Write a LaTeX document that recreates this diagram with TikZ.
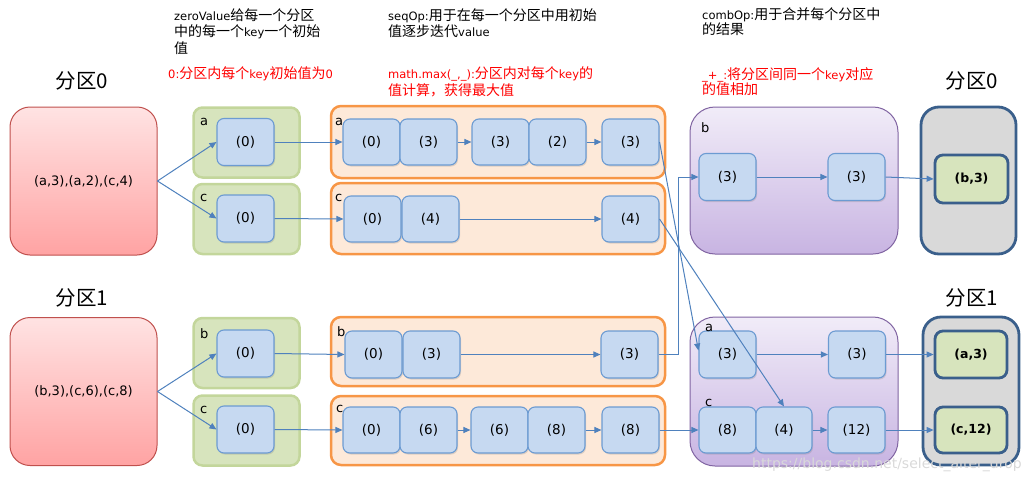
\documentclass[tikz,border=0pt]{standalone}
\usepackage{fontspec}
\setmainfont{Noto Sans CJK SC}
\newfontfamily\latfont{DejaVu Sans}
\newcommand\latn[1]{{\fontsize{11.5}{15}\selectfont\latfont #1}}
\usetikzlibrary{arrows.meta,shadows}
\definecolor{redtop}{HTML}{FFE3E3}
\definecolor{redbot}{HTML}{FFA3A3}
\definecolor{redborder}{HTML}{C0504D}
\definecolor{greenfill}{HTML}{D7E4BD}
\definecolor{greenborder}{HTML}{C3D69B}
\definecolor{bluefill}{HTML}{C6D9F1}
\definecolor{blueborder}{HTML}{6C9BD2}
\definecolor{orangefill}{HTML}{FDE9D9}
\definecolor{orangeborder}{HTML}{F79646}
\definecolor{purtop}{HTML}{F1ECF8}
\definecolor{purbot}{HTML}{C8B4E2}
\definecolor{purborder}{HTML}{8064A2}
\definecolor{grayfill}{HTML}{D9D9D9}
\definecolor{darkblue}{HTML}{3A5F8B}
\definecolor{arrowblue}{HTML}{4F81BD}
\begin{document}
\begin{tikzpicture}[x=1pt,y=-1pt,
  redbox/.style={draw=redborder, line width=1pt, rounded corners=20pt, top color=redtop, bottom color=redbot, minimum width=147pt, minimum height=148pt, inner sep=0pt, font=\fontsize{13}{15}\selectfont\latfont},
  greenbox/.style={draw=greenborder, line width=2.5pt, fill=greenfill, rounded corners=9pt, minimum width=106pt, minimum height=70pt, inner sep=0pt},
  bluebox/.style={draw=blueborder, line width=1.1pt, fill=bluefill, rounded corners=7pt, minimum width=57pt, minimum height=47pt, inner sep=0pt, drop shadow={shadow xshift=1pt,shadow yshift=-1.5pt,opacity=0.25}, font=\fontsize{13.5}{15}\selectfont\latfont},
  orangebox/.style={draw=orangeborder, line width=2.5pt, fill=orangefill, rounded corners=10pt, minimum width=334pt, minimum height=70pt, inner sep=0pt},
  purplebox/.style={draw=purborder, line width=1pt, rounded corners=25pt, top color=purtop, bottom color=purbot, minimum width=208pt, minimum height=148pt, inner sep=0pt},
  graybox/.style={draw=darkblue, line width=2.8pt, fill=grayfill, rounded corners=18pt, minimum width=95pt, minimum height=147pt, inner sep=0pt},
  resbox/.style={draw=darkblue, line width=2.8pt, fill=greenfill, rounded corners=8pt, minimum width=72pt, minimum height=47pt, inner sep=0pt, font=\fontsize{12.5}{15}\selectfont\latfont\bfseries},
  title/.style={font=\fontsize{20.5}{24}\selectfont, inner sep=0pt},
  lbl/.style={font=\fontsize{13}{15}\selectfont\latfont, anchor=base west, inner sep=0pt},
  note/.style={font=\fontsize{14}{16}\selectfont, anchor=base west, inner sep=0pt},
  rednote/.style={note, text=red},
  arr/.style={-{Triangle[length=7pt,width=6pt]}, draw=arrowblue, line width=1pt}
]
\useasboundingbox (0,0) rectangle (1028,482);

% annotations
\node[note] (n1) at (174,20) {\latn{zeroValue}给每一个分区};
\node[note] (n2) at (174,36.5) {中的每一个\latn{key}一个初始};
\node[note] (n3) at (174,53) {值};
\node[rednote] (n4) at (168,78) {\latn{0:}分区内每个\latn{key}初始值为\latn{0}};
\node[note] (n5) at (388,20) {\latn{seqOp:}用于在每一个分区中用初始};
\node[note] (n6) at (388,36) {值逐步迭代\latn{value}};
\node[rednote] (n7) at (388,78) {\latn{math.max(\_,\_):}分区内对每个\latn{key}的};
\node[rednote] (n8) at (388,95) {值计算，获得最大值};
\node[note] (n9) at (702,19) {\latn{combOp:}用于合并每个分区中};
\node[note] (n10) at (702,34.5) {的结果};
\node[rednote] (n11) at (702,79) {\latn{\_+\_:}将分区间同一个\latn{key}对应};
\node[rednote] (n12) at (702,94.5) {的值相加};

% titles
\node[title] (t0) at (82,81) {分区0};
\node[title] (t1) at (82,298) {分区1};
\node[title] (t2) at (972,81) {分区0};
\node[title] (t3) at (972,298) {分区1};

% red partitions
\node[redbox] (r0) at (83.5,181) {(a,3),(a,2),(c,4)};
\node[redbox] (r1) at (83.5,391.5) {(b,3),(c,6),(c,8)};

% green boxes
\node[greenbox] (ga) at (246.5,142.5) {};
\node[greenbox] (gc) at (246.5,219) {};
\node[greenbox] (gb1) at (246.5,353) {};
\node[greenbox] (gc1) at (246.5,430.5) {};

% orange boxes
\node[orangebox, minimum height=72pt] (oa) at (498,142) {};
\node[orangebox, minimum height=71pt] (oc) at (498,218.5) {};
\node[orangebox, minimum height=69pt] (ob) at (498,351.5) {};
\node[orangebox, minimum height=69pt] (oc1) at (498,430.5) {};

% purple boxes
\node[purplebox, minimum height=147pt] (pb) at (794,180.5) {};
\node[purplebox, minimum height=149pt] (pp) at (794,391.5) {};

% gray boxes
\node[graybox] (gr0) at (968.5,180.5) {};
\node[graybox, minimum width=96pt, minimum height=148pt] (gr1) at (971,391) {};

% blue in green
\node[bluebox] (za) at (245.5,142) {(0)};
\node[bluebox] (zc) at (245.5,218.5) {(0)};
\node[bluebox] (zb1) at (245.5,353.5) {(0)};
\node[bluebox] (zc1) at (245.5,429.5) {(0)};

% orange row a
\node[bluebox, minimum height=46pt] (a1) at (371.5,142) {(0)};
\node[bluebox, minimum height=46pt] (a2) at (428.5,142) {(3)};
\node[bluebox, minimum height=46pt] (a3) at (500.5,142) {(3)};
\node[bluebox, minimum height=46pt] (a4) at (557.5,142) {(2)};
\node[bluebox, minimum height=46pt] (a5) at (630.5,142) {(3)};
% orange row c
\node[bluebox, minimum height=46pt] (c1) at (372.5,219) {(0)};
\node[bluebox, minimum height=46pt] (c2) at (430.5,219) {(4)};
\node[bluebox, minimum height=46pt] (c3) at (630.5,219) {(4)};
% orange row b (P1)
\node[bluebox] (b1) at (373.5,354.5) {(0)};
\node[bluebox] (b2) at (431.5,354.5) {(3)};
\node[bluebox] (b3) at (629.5,354.5) {(3)};
% orange row c (P1)
\node[bluebox, minimum height=46pt] (d1) at (371.5,430) {(0)};
\node[bluebox, minimum height=46pt] (d2) at (428.5,430) {(6)};
\node[bluebox, minimum height=46pt] (d3) at (499.5,430) {(6)};
\node[bluebox, minimum height=46pt] (d4) at (556.5,430) {(8)};
\node[bluebox, minimum height=46pt] (d5) at (630.5,430) {(8)};

% purple contents
\node[bluebox] (pb1) at (727.5,177) {(3)};
\node[bluebox] (pb2) at (856.5,177) {(3)};
\node[bluebox] (pa1) at (727.5,354.5) {(3)};
\node[bluebox] (pa2) at (857,354.5) {(3)};
\node[bluebox, minimum height=46pt] (pc1) at (727.5,430) {(8)};
\node[bluebox, minimum width=56pt, minimum height=46pt] (pc2) at (784,430) {(4)};
\node[bluebox, minimum height=46pt] (pc3) at (856.5,430) {(12)};

% results
\node[resbox, minimum width=73pt, minimum height=48pt] (res0) at (971.5,179) {(b,3)};
\node[resbox] (resa) at (971,354.5) {(a,3)};
\node[resbox, minimum height=46pt] (resc) at (971,430) {(c,12)};

% small labels
\node[lbl] (lga) at (200,125) {a};
\node[lbl] (lgc) at (200,201) {c};
\node[lbl] (lgb1) at (200,338) {b};
\node[lbl] (lgc1) at (200,413) {c};
\node[lbl] (loa) at (335,125) {a};
\node[lbl] (loc) at (335,201) {c};
\node[lbl] (lob) at (337,336) {b};
\node[lbl] (loc1) at (336,412) {c};
\node[lbl] (lpb) at (701,132) {b};
\node[lbl] (lpa) at (705,331) {a};
\node[lbl] (lpc) at (705,406) {c};

% arrows
\draw[arr] (r0.east) -- (za.west);
\draw[arr] (r0.east) -- (zc.west);
\draw[arr] (r1.east) -- (zb1.west);
\draw[arr] (r1.east) -- (zc1.west);
\draw[arr] (za.east) -- (a1.west);
\draw[arr] (zc.east) -- (c1.west);
\draw[arr] (zb1.east) -- (b1.west);
\draw[arr] (zc1.east) -- (d1.west);
\draw[arr] (a2.east) -- (a3.west);
\draw[arr] (a4.east) -- (a5.west);
\draw[arr] (c2.east) -- (c3.west);
\draw[arr] (b2.east) -- (b3.west);
\draw[arr] (d2.east) -- (d3.west);
\draw[arr] (d4.east) -- (d5.west);
\draw[arr] (a5.east) -- ([yshift=4pt]pa1.west);
\draw[arr] (c3.east) -- (pc2.north);
\draw[arr] (b3.east) -- ++(20,0) |- (pb1.west);
\draw[arr] (d5.east) -- (pc1.west);
\draw[arr] (pb1.east) -- (pb2.west);
\draw[arr] (pb2.east) -- (res0.west);
\draw[arr] (pa1.east) -- (pa2.west);
\draw[arr] (pa2.east) -- (resa.west);
\draw[arr] (pc2.east) -- (pc3.west);
\draw[arr] (pc3.east) -- (resc.west);

% watermark
\node[anchor=base west, inner sep=0pt, text=gray!30, font=\fontsize{14}{16}\selectfont\latfont] (wm) at (752,468) {https://blog.csdn.net/select\_alter\_drop};
\end{tikzpicture}
\end{document}
